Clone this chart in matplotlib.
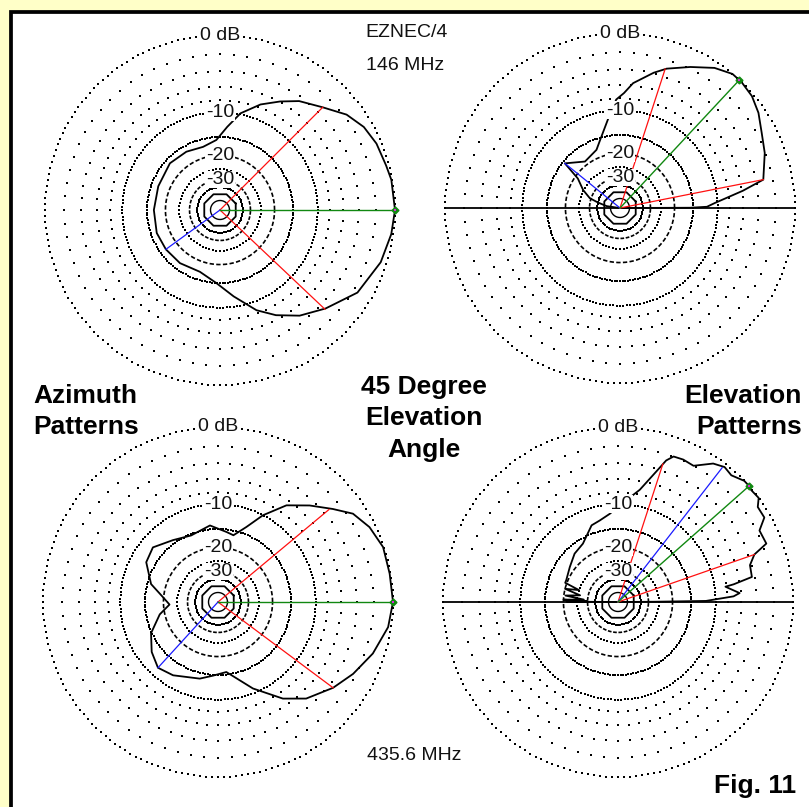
import numpy as np
import matplotlib.pyplot as plt
from matplotlib.patches import Rectangle

W, H = 809, 807
R = 175  # outer (0 dB) ring radius in px

# 146 MHz azimuth pattern at 45 deg elevation (azimuth deg, dB)
az146_ang = [0, 10, 15, 23, 30, 37, 45, 54, 61, 69, 78, 85, 93, 105, 120, 137, 159,
             180, 200, 216, 233, 252, 267, 279, 290, 298, 307, 317, 329, 342, 352, 360]
az146_db = [0, -0.1, -0.3, -0.5, -0.9, -1.7, -3.2, -4.5, -5.9, -7.5, -9.8, -12.7, -15.7,
            -16.9, -16.4, -16.1, -16.7, -16.7, -16.4, -16.5, -16.6, -17.0, -15.0, -11.9,
            -8.5, -6.6, -4.8, -3.3, -1.5, -0.6, -0.2, 0]

# 146 MHz elevation pattern (elevation deg, dB), -99 = null
el146_ang = [0, 0.2, 0.8, 3, 8, 11.2, 20.8, 27.9, 34.5, 40.3, 46, 50, 56, 63.5, 71.5, 76,
             84, 88, 92, 97, 106, 112, 127, 141, 145, 154, 162, 166, 172, 180]
el146_db = [-99, -15.7, -12, -10.5, -5.9, -3.1, -2.1, -1.5, -0.7, -0.2, 0, 0, -0.6, -1.8,
            -3.0, -3.9, -5.7, -7.2, -8.2, -11.1, -15.4, -17.6, -18.9, -15.5, -21.0, -24.9,
            -29.3, -35, -44, -99]

# 435.6 MHz azimuth pattern
az435_ang = [0, 9.4, 18.4, 26.3, 33.2, 39, 46.5, 54.7, 62.6, 69.3, 77, 83, 96, 112, 126,
             140, 151, 165, 175, 183, 192, 205, 217, 227.6, 238.5, 256.6, 266, 276.8, 292,
             303.9, 312.4, 323.3, 332, 341.6, 351.6, 360]
az435_db = [0, -0.1, -0.1, -0.6, -1.4, -2.9, -4.7, -6.7, -10, -13.4, -16.1, -15.6, -14.1,
            -15.3, -14.2, -12.4, -13.0, -15.9, -19.8, -22, -18.5, -14.8, -12.8, -11.6,
            -12.2, -13.7, -14.8, -15.6, -10.8, -7.0, -5.0, -3.4, -2.3, -1.2, -0.3, 0]

# 435.6 MHz elevation pattern
el435_ang = [0, 0.4, 0.7, 2.8, 4.2, 8.1, 8.7, 10.6, 15.6, 19.2, 21.5, 26.8, 30, 34.2, 36.5,
             40, 42, 43.8, 48.2, 51.7, 55.5, 61, 65.4, 69.1, 71.2, 73.6, 79, 89, 95.4,
             102.7, 109, 121, 131.9, 144, 157, 160, 163, 166, 170, 173, 176, 177.5, 179,
             179.6, 180]
el435_db = [-99, -27, -11.8, -7.1, -6.2, -8.2, -6.9, -4.3, -4.2, -3.3, -1.6, -1.7, -0.6,
            -0.6, 0, -0.1, 0, 0, -0.5, -0.3, -0.7, -2.0, -1.9, -2.0, -2.7, -4.3, -7.3,
            -10.2, -11.7, -12.7, -13.2, -16.2, -17.0, -18.5, -19.5, -19.5, -25, -20, -26,
            -20.5, -28, -20, -30, -21, -99]

# marker lines: (angle, dB) for green max, red -3 dB points, blue
az146_marks = {"g": (0, 0), "r": [(45, -3.2), (316.6, -3.3)], "b": (216, -16.5)}
el146_marks = {"g": (47, 0), "r": [(72, -3.1), (11.2, -3.1)], "b": (141, -15.5)}
az435_marks = {"g": (0, 0), "r": [(39.8, -3.3), (323.3, -3.4)], "b": (227.6, -11.6)}
el435_marks = {"g": (41.5, 0), "r": [(72, -3.2), (19.2, -3.3)], "b": (52.2, -0.5)}


def arrl(db):
    # ARRL log scale: radius drops to 0.89 every 2 dB
    return 0.89 ** (-np.asarray(db, dtype=float) / 2)


def make_ax(cx, cy):
    ax = fig.add_axes([(cx - R) / W, (H - cy - R) / H, 2 * R / W, 2 * R / H],
                      projection="polar")
    ax.set_ylim(0, 1)
    ax.set_axis_off()
    return ax


def draw_grid(ax):
    dot = dict(marker="s", s=1.5, c="black", linewidths=0, clip_on=False)
    for db in [0, -10, -15]:
        t = np.radians(np.arange(0, 360, 2))
        ax.scatter(t, np.full(t.size, arrl(db)), **dot)
    for db in [-2, -4, -6, -8, -25, -35]:
        t = np.radians(np.arange(0, 360, 5))
        ax.scatter(t, np.full(t.size, arrl(db)), **dot)
    t = np.radians(np.linspace(0, 360, 361))
    ax.plot(t, np.full(t.size, arrl(-20)), color="black", lw=1.2, ls=(0, (2.6, 1.4)))
    ax.plot(t, np.full(t.size, arrl(-30)), color="black", lw=1.2, ls=(0, (2.2, 1.0)))
    t8 = np.radians(np.arange(22.5, 383, 45))
    ax.plot(t8, np.full(t8.size, arrl(-40)), color="black", lw=1.3)
    ax.plot(t, np.full(t.size, arrl(-50)), color="black", lw=1.0)
    txt = dict(ha="center", va="center", fontsize=14, family="Liberation Sans",
               color="#111111", bbox=dict(fc="white", ec="none", pad=0.3), zorder=5)
    ax.text(np.pi / 2, arrl(0), "0 dB", **txt)
    for db in [-10, -20, -30]:
        ax.text(np.pi / 2, arrl(db), str(db), **txt)


def draw_pattern(ax, ang, db, marks, ground=False):
    if ground:
        ax.plot([0, 0], [0, 1], color="black", lw=1.3, clip_on=False)
        ax.plot([np.pi, np.pi], [0, 1], color="black", lw=1.3, clip_on=False)
    ax.plot(np.radians(ang), arrl(db), color="black", lw=1.3, clip_on=False)
    for a, d in marks["r"]:
        ax.plot([np.radians(a)] * 2, [0, arrl(d)], color="#ff1010", lw=0.9)
    a, d = marks["b"]
    ax.plot([np.radians(a)] * 2, [0, arrl(d)], color="#1a1aff", lw=0.9)
    a, d = marks["g"]
    ax.plot([np.radians(a)] * 2, [0, arrl(d)], color="#118811", lw=1.0, clip_on=False)
    ax.plot(np.radians(a), arrl(d), marker="D", ms=3.5, color="#118811", clip_on=False)
    ax.plot(np.radians(a), arrl(d), marker="s", ms=1.5, color="#dd22dd", mew=0,
            clip_on=False)


fig = plt.figure(figsize=(W / 100, H / 100), dpi=100)
fig.patch.set_facecolor("#ffffc8")
fig.add_artist(Rectangle((11 / W, -0.02), 1.1, 1.02 - 12.5 / H, transform=fig.transFigure,
                         facecolor="white", edgecolor="black", lw=2.7, zorder=-10))

panels = [
    ((220, 210), az146_ang, az146_db, az146_marks, False),
    ((620, 208), el146_ang, el146_db, el146_marks, True),
    ((218, 602), az435_ang, az435_db, az435_marks, False),
    ((618, 602), el435_ang, el435_db, el435_marks, True),
]
for (cx, cy), ang, db, marks, ground in panels:
    ax = make_ax(cx, cy)
    draw_grid(ax)
    draw_pattern(ax, ang, db, marks, ground)


def label(x, y, s, ha="center", bold=False, size=14):
    fig.text(x / W, 1 - y / H, s, ha=ha, va="baseline", fontsize=size,
             family="Liberation Sans", fontweight="bold" if bold else "normal",
             color="#111111" if not bold else "black")


label(407, 37, "EZNEC/4")
label(405, 70, "146 MHz")
label(414, 760, "435.6 MHz")
label(33, 403, "Azimuth", ha="left", bold=True, size=19)
label(33, 434, "Patterns", ha="left", bold=True, size=19)
label(424, 394, "45 Degree", bold=True, size=19)
label(424, 425, "Elevation", bold=True, size=19)
label(424, 457, "Angle", bold=True, size=19)
label(802, 403, "Elevation", ha="right", bold=True, size=19)
label(802, 434, "Patterns", ha="right", bold=True, size=19)
label(796, 793, "Fig. 11", ha="right", bold=True, size=19)

fig.savefig("out.png", dpi=100, facecolor=fig.get_facecolor())
